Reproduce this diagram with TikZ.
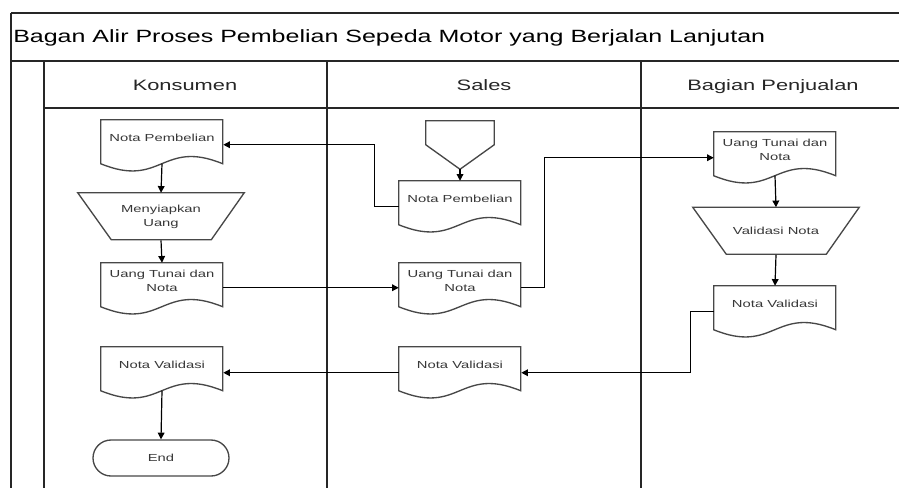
\documentclass[tikz,border=0pt]{standalone}
\usepackage{fontspec}
\setmainfont{Liberation Sans}
\usepackage{graphicx}
\usetikzlibrary{arrows.meta,calc,shapes.misc}
\newcommand{\sx}[1]{\scalebox{1.45}[1]{#1}}
\newcommand{\docoutline}[1]{\draw[shapeline] (#1.north west) -- ++(0,44) .. controls +(61,25) and +(-61,-25) .. ++(122,0) -- ++(0,-44) -- cycle;}
\newcommand{\trapoutline}[1]{\draw[shapeline] (#1.north west) -- (#1.north east) -- ++(-33,47) -- ++(-100,0) -- cycle;}
\tikzset{
  frame/.style={line width=1.5pt, draw=black!85},
  shapeline/.style={line width=1pt, draw=black!72},
  conn/.style={line width=0.9pt, draw=black, -{Triangle[length=5pt,width=5pt]}},
  shapetext/.style={font=\fontsize{7.65pt}{10.5pt}\selectfont, text=black!78, align=center, inner sep=0pt},
  doc/.style={shapetext, minimum width=91.5pt, minimum height=27pt},
  trap/.style={shapetext, minimum width=124.5pt, minimum height=35.25pt},
  offpage/.style={minimum width=51pt, minimum height=36pt, inner sep=0pt},
  term/.style={shapetext, rounded rectangle, draw=black!72, line width=1pt, minimum width=102pt, minimum height=27pt},
  header/.style={font=\fontsize{11.3pt}{13pt}\selectfont, text=black!85, inner sep=0pt, anchor=base},
}
\begin{document}
\begin{tikzpicture}[x=0.75pt, y=-0.75pt]
\useasboundingbox (0,0) rectangle (899,487);
\clip (0,0) rectangle (899,487);
\fill[white] (0,0) rectangle (899,487);
% frame
\draw[frame] (11,13) -- (905,13);
\draw[frame] (11,13) -- (11,495);
\draw[frame] (11,61) -- (905,61);
\draw[frame] (44,61) -- (44,495);
\draw[frame] (44,108) -- (905,108);
\draw[frame] (327,61) -- (327,495);
\draw[frame] (641,61) -- (641,495);
\node[anchor=base west, inner sep=0pt, font=\fontsize{13.3pt}{15pt}\selectfont] (ttl) at (13,42) {\scalebox{1.41}[1]{Bagan Alir Proses Pembelian Sepeda Motor yang Berjalan Lanjutan}};
\node[header] (h1) at (185,90) {\sx{Konsumen}};
\node[header] (h2) at (484,90) {\sx{Sales}};
\node[header] (h3) at (773,90) {\sx{Bagian Penjualan}};
% Konsumen
\node[doc] (k1) at (162,138) {\sx{Nota Pembelian}};
\node[trap] (k2) at (161,216.5) {\sx{Menyiapkan}\\\sx{Uang}};
\node[doc] (k3) at (162,281) {\sx{Uang Tunai dan}\\\sx{Nota}};
\node[doc] (k4) at (162,365) {\sx{Nota Validasi}};
\node[term] (k5) at (161,458) {\sx{End}};
% Sales
\node[offpage] (s0) at (460,145) {};
\node[doc] (s1) at (460,199) {\sx{Nota Pembelian}};
\node[doc] (s2) at (460,281) {\sx{Uang Tunai dan}\\\sx{Nota}};
\node[doc] (s3) at (460,365) {\sx{Nota Validasi}};
% Bagian Penjualan
\node[doc] (b1) at (775,150) {\sx{Uang Tunai dan}\\\sx{Nota}};
\node[trap] (b2) at (776,231) {\sx{Validasi Nota}};
\node[doc] (b3) at (775,304) {\sx{Nota Validasi}};
% outlines
\docoutline{k1}
\docoutline{k3}
\docoutline{k4}
\docoutline{s1}
\docoutline{s2}
\docoutline{s3}
\docoutline{b1}
\docoutline{b3}
\trapoutline{k2}
\trapoutline{b2}
\draw[shapeline] (s0.north west) -- (s0.north east) -- ++(0,24) -- (s0.south) -- ($(s0.north west)+(0,24)$) -- cycle;
% connectors
\draw[conn] ($(k1.north)+(0,44)$) -- (k2.north);
\draw[conn] (k2.south) -- (k3.north);
\draw[conn] ($(k4.north)+(0,44)$) -- (k5.north);
\draw[conn] (s0.south) -- (s1.north);
\draw[conn] ($(s1.north west)+(0,26)$) -- ++(-24,0) |- ($(k1.north east)+(0,25)$);
\draw[conn] ($(k3.north east)+(0,25)$) -- ($(s2.north west)+(0,25)$);
\draw[conn] ($(s2.north east)+(0,25)$) -- ++(23,0) |- ($(b1.north west)+(0,26)$);
\draw[conn] ($(b1.north)+(0,44)$) -- (b2.north);
\draw[conn] (b2.south) -- (b3.north);
\draw[conn] ($(b3.north west)+(0,26)$) -- ++(-23,0) |- ($(s3.north east)+(0,26)$);
\draw[conn] ($(s3.north west)+(0,26)$) -- ($(k4.north east)+(0,26)$);
\end{tikzpicture}
\end{document}
